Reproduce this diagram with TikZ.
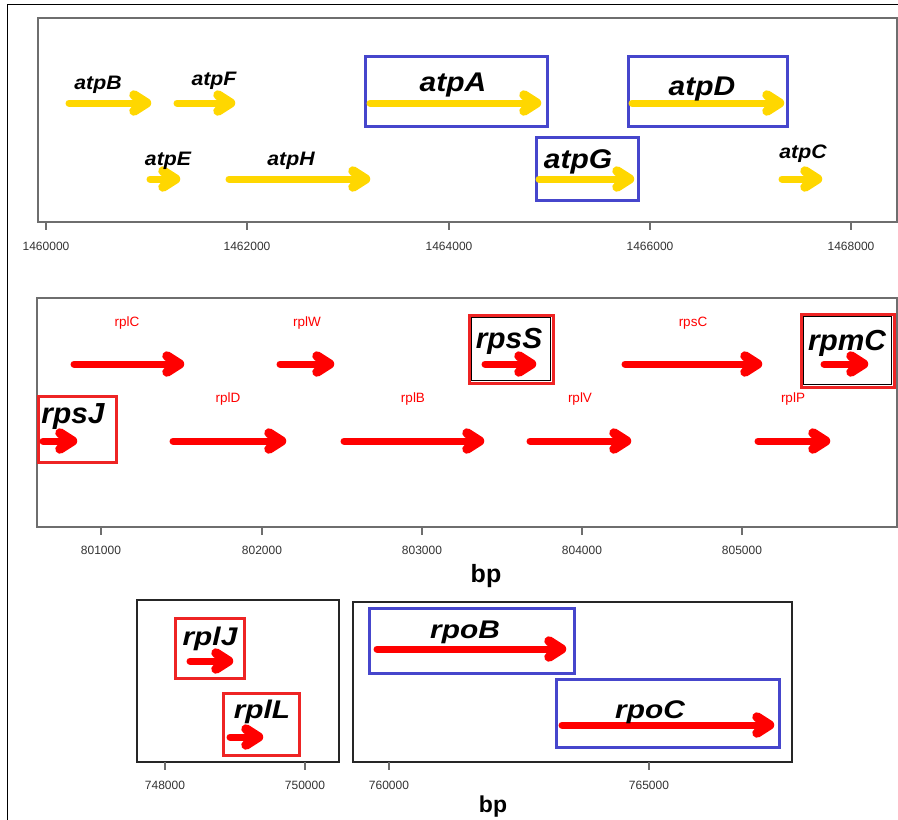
\documentclass[tikz,border=0pt]{standalone}
\usepackage{fontspec}
\setmainfont{Liberation Sans}
\definecolor{goldy}{HTML}{FFD700}
\definecolor{redy}{HTML}{FF0000}
\definecolor{boxblue}{HTML}{4646CC}
\definecolor{boxred}{HTML}{EE2424}
\definecolor{framegray}{HTML}{6E6E6E}
\definecolor{ticktext}{HTML}{333333}
\newcommand{\genearrow}[4]{%
  \draw[#1, line width=7, line cap=round, line join=round] (#2,#4) -- ({#3-5},#4);
  \draw[#1, line width=9.5, line cap=round, line join=round] ({#3-17},{#4-8}) -- ({#3-4.5},#4) -- ({#3-17},{#4+8});
}
\tikzset{
  glab/.style={anchor=base, inner sep=0pt, font=\bfseries\itshape},
  rlab/.style={anchor=base, inner sep=0pt, text=redy, font=\fontsize{13.5}{14}\selectfont},
  ticklab/.style={anchor=base, inner sep=0pt, text=ticktext, font=\fontsize{12}{12}\selectfont},
  bplab/.style={anchor=base, inner sep=0pt, font=\bfseries},
  pframe/.style={draw=framegray, line width=1.8},
  bframe/.style={draw=black!85, line width=1.2},
  tickline/.style={draw=framegray, line width=1.2},
  bluebox/.style={draw=boxblue, line width=3},
  redbox/.style={draw=boxred, line width=3},
}
\newcommand{\SmallG}[1]{\fontsize{19.5}{19.5}\selectfont\scalebox{1.09}[1]{#1}}
\newcommand{\BigG}[1]{\fontsize{27}{27}\selectfont\scalebox{1.11}[1]{#1}}
\newcommand{\MidG}[1]{\fontsize{29}{29}\selectfont\scalebox{1.03}[1]{#1}}
\newcommand{\LowG}[1]{\fontsize{25.5}{25.5}\selectfont\scalebox{1.17}[1]{#1}}
\begin{document}
\begin{tikzpicture}[x=1pt,y=-1pt]
\useasboundingbox (0,0) rectangle (898,820);
\fill[white] (0,0) rectangle (898,820);
% outer frame
\draw[black, line width=1] (7,820) -- (7,4) -- (898,4);

% ---------------- Panel 1 ----------------
\draw[pframe] (38,18) rectangle (897,222);
\foreach \x/\t in {46/1460000, 247/1462000, 449/1464000, 650/1466000, 851/1468000}{
  \draw[tickline] (\x,222) -- (\x,230);
  \node[ticklab] (t\t) at (\x,250) {\t};
}
\draw[bluebox] (365,56) rectangle (547,126);
\draw[bluebox] (628,56) rectangle (787,126);
\draw[bluebox] (536,137) rectangle (638,200);
\genearrow{goldy}{69}{151}{103}
\genearrow{goldy}{177}{235}{103}
\genearrow{goldy}{370}{541}{103}
\genearrow{goldy}{632}{784}{103}
\genearrow{goldy}{150}{180}{179}
\genearrow{goldy}{229}{370}{179}
\genearrow{goldy}{539}{634}{179}
\genearrow{goldy}{782}{822}{179}
\node[glab] (atpB) at (98,89) {\SmallG{atpB}};
\node[glab] (atpF) at (214,85) {\SmallG{atpF}};
\node[glab] (atpE) at (168,165) {\SmallG{atpE}};
\node[glab] (atpH) at (291,165) {\SmallG{atpH}};
\node[glab] (atpC) at (803,158) {\SmallG{atpC}};
\node[glab] (atpA) at (453,91) {\BigG{atpA}};
\node[glab] (atpD) at (702,95) {\BigG{atpD}};
\node[glab] (atpG) at (578,168) {\BigG{atpG}};

% ---------------- Panel 2 ----------------
\draw[pframe] (37,298) rectangle (897,527);
\foreach \x/\t in {101/801000, 262/802000, 422/803000, 582/804000, 742/805000}{
  \draw[tickline] (\x,527) -- (\x,535);
  \node[ticklab] (t\t) at (\x,554) {\t};
}
\node[bplab, font=\fontsize{25}{25}\selectfont\bfseries] (bp1) at (486,582) {bp};
% boxes
\draw[redbox] (469,315) rectangle (553,383);
\draw[black, line width=1] (471.5,317.5) rectangle (550.5,380.5);
\draw[redbox] (801,314) rectangle (894,387);
\draw[black, line width=1] (803.5,316.5) rectangle (891.5,384.5);
\draw[redbox] (38,396) rectangle (116,462);
% arrows
\genearrow{redy}{74}{184}{364}
\genearrow{redy}{280}{334}{364}
\genearrow{redy}{485}{536}{364}
\genearrow{redy}{625}{762}{364}
\genearrow{redy}{824}{868}{364}
\genearrow{redy}{43}{77}{441}
\genearrow{redy}{173}{286}{441}
\genearrow{redy}{344}{484}{441}
\genearrow{redy}{530}{631}{441}
\genearrow{redy}{758}{830}{441}
% labels
\node[rlab] (rplC) at (127,326) {rplC};
\node[rlab] (rplW) at (307,326) {rplW};
\node[rlab] (rpsC) at (693,326) {rpsC};
\node[rlab] (rplD) at (228,402) {rplD};
\node[rlab] (rplB) at (413,402) {rplB};
\node[rlab] (rplV) at (580,402) {rplV};
\node[rlab] (rplP) at (793,402) {rplP};
\node[glab] (rpsS) at (509,348) {\MidG{rpsS}};
\node[glab] (rpmC) at (847,350) {\MidG{rpmC}};
\node[glab] (rpsJ) at (73,423) {\MidG{rpsJ}};

% ---------------- Panel 3a ----------------
\draw[bframe] (137,600) rectangle (339,762);
\foreach \x/\t in {165/748000, 305/750000}{
  \draw[tickline] (\x,762) -- (\x,770);
  \node[ticklab] (t\t) at (\x,789) {\t};
}
\draw[redbox] (175,618) rectangle (244,678);
\draw[redbox] (223,693) rectangle (299,755);
\genearrow{redy}{190}{233}{661}
\genearrow{redy}{230}{263}{737}
\node[glab] (rplJ) at (210,645) {\LowG{rplJ}};
\node[glab] (rplL) at (262,718) {\LowG{rplL}};

% ---------------- Panel 3b ----------------
\draw[bframe] (353,602) rectangle (792,762);
\foreach \x/\t in {389/760000, 649/765000}{
  \draw[tickline] (\x,762) -- (\x,770);
  \node[ticklab] (t\t) at (\x,789) {\t};
}
\draw[bluebox] (369,608) rectangle (574,673);
\draw[bluebox] (556,679) rectangle (779,747);
\genearrow{redy}{377}{566}{649}
\genearrow{redy}{562}{774}{725}
\node[glab] (rpoB) at (465,638) {\LowG{rpoB}};
\node[glab] (rpoC) at (650,718) {\LowG{rpoC}};
\node[bplab, font=\fontsize{23}{23}\selectfont\bfseries] (bp2) at (493,812) {bp};
\end{tikzpicture}
\end{document}
